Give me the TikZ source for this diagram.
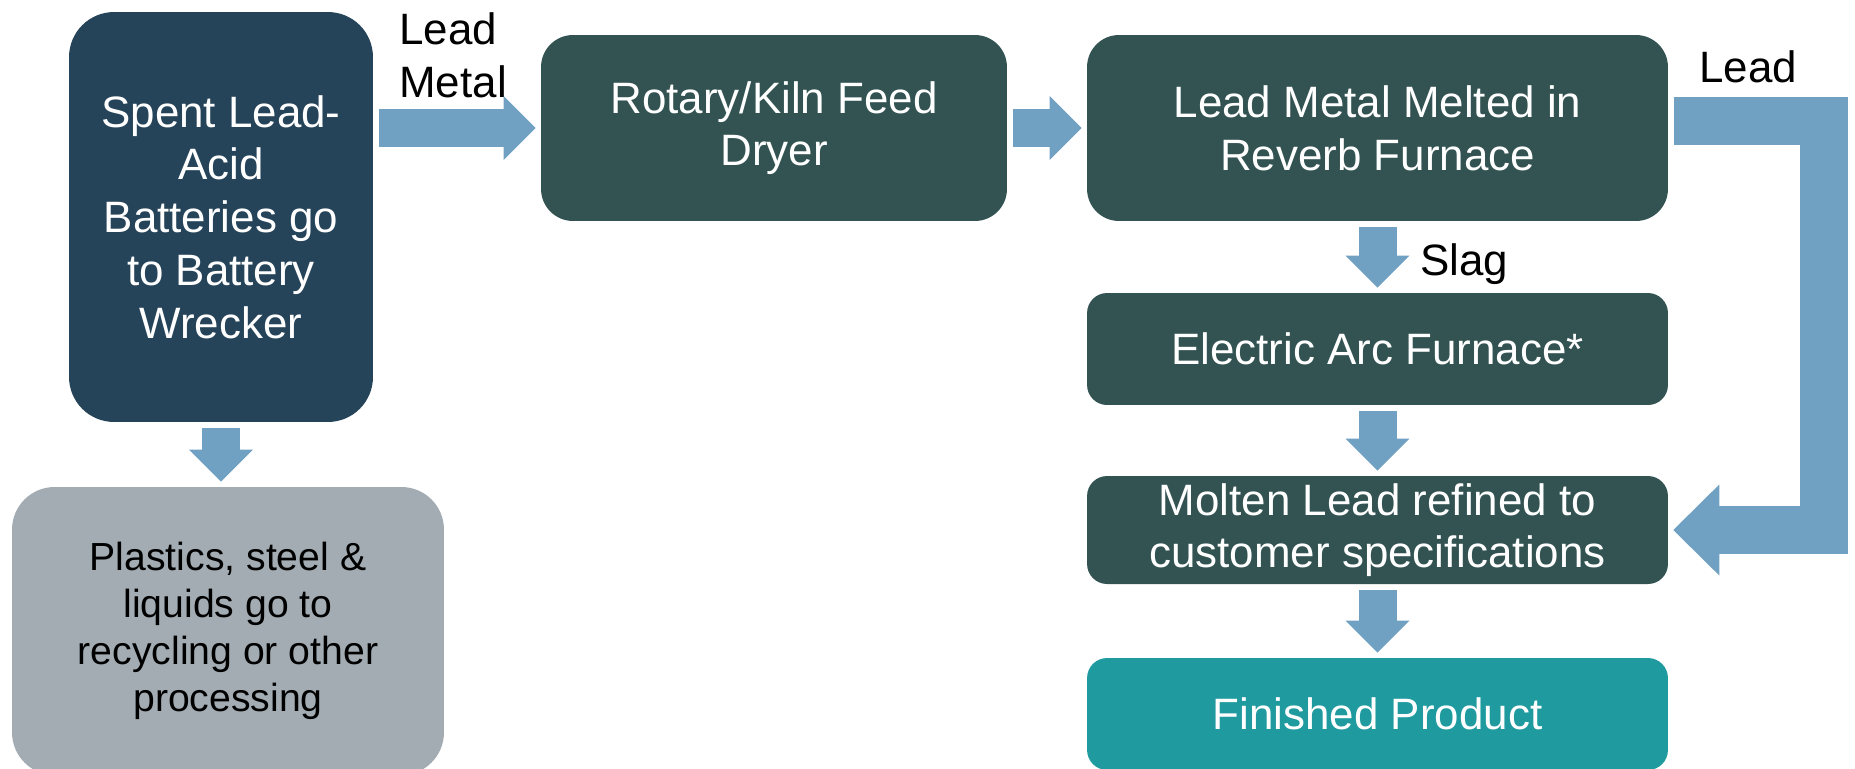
\documentclass[tikz,border=0pt]{standalone}
\usepackage{fontspec}
\setmainfont{Liberation Sans}
\usepackage{tikz}
\usetikzlibrary{arrows.meta,positioning,calc}
\definecolor{wreckblue}{HTML}{264459}
\definecolor{furnacegreen}{HTML}{325352}
\definecolor{scrapgray}{HTML}{A2ACB2}
\definecolor{productteal}{HTML}{1F9BA0}
\definecolor{flowblue}{HTML}{70A1C3}

\begin{document}
\begin{tikzpicture}[x=0.02cm,y=-0.02cm,
  box/.style={rectangle,rounded corners=0.4cm,fill=furnacegreen,text=white,align=center,inner sep=0pt,font=\fontsize{25}{30}\selectfont},
  widebox/.style={box,minimum width=11.62cm},
  flow/.style={draw=flowblue,line width=0.76cm,shorten <=0.12cm,shorten >=0.1cm,-{Triangle[width=1.28cm,length=0.64cm,line width=0pt]}},
  leadflow/.style={flow,line width=0.96cm,-{Triangle[width=1.82cm,length=0.92cm,line width=0pt]}},
  lbl/.style={inner sep=0pt,font=\fontsize{25}{30}\selectfont,align=left}]
\useasboundingbox (0,0) rectangle (1855,768);

% Process boxes
\node[box,fill=wreckblue,minimum width=6.08cm,minimum height=8.2cm,rounded corners=0.9cm] (spent) at (221,217) {Spent Lead-\\Acid\\Batteries go\\to Battery\\Wrecker};
\node[box,fill=scrapgray,text=black,minimum width=8.64cm,minimum height=5.76cm,rounded corners=0.85cm,font=\fontsize{22.3}{26.7}\selectfont] (scrap) at (228,631) {Plastics, steel \&\\liquids go to\\recycling or other\\processing};
\node[box,minimum width=9.32cm,minimum height=3.72cm,rounded corners=0.64cm] (dryer) at (774,128) {Rotary/Kiln Feed\\Dryer};
\node[widebox,minimum height=3.72cm,rounded corners=0.64cm] (reverb) at (1377.5,128) {Lead Metal Melted in\\Reverb Furnace};
\node[widebox,minimum height=2.24cm] (arc) at (1377.5,349) {Electric Arc Furnace*};
\node[widebox,minimum height=2.16cm] (refine) at (1377.5,530) {Molten Lead refined to\\customer specifications};
\node[widebox,fill=productteal,minimum height=2.24cm] (product) at (1377.5,714) {Finished Product};

% Flow arrows
\draw[flow] (spent.east |- dryer.west) -- (dryer.west);
\draw[flow] (dryer) -- (reverb);
\foreach \a/\b in {spent/scrap, reverb/arc, arc/refine, refine/product}
  \draw[flow] (\a.south) -- (\a.south |- \b.north);
\draw[leadflow] ([yshift=0.14cm]reverb.east) -- ++(155.5,0) |- (refine.east);

% Labels
\node[lbl,anchor=base west] (metal) at (399,97) {Lead\\Metal};
\node[lbl,anchor=base west] (slag) at (1420,275) {Slag};
\node[lbl,anchor=base west] (lead) at (1699,82) {Lead};
\end{tikzpicture}
\end{document}
